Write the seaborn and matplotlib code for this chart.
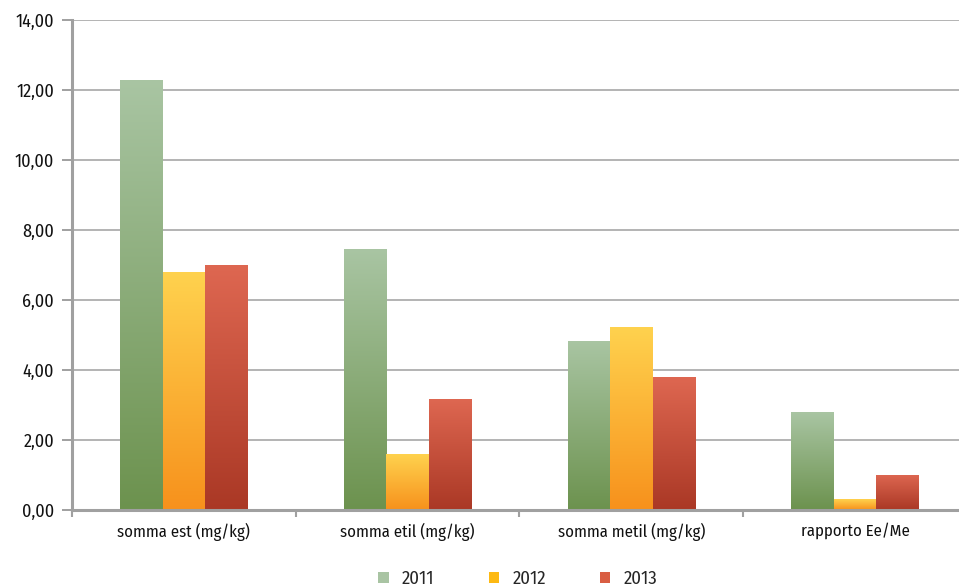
import numpy as np
import pandas as pd
import matplotlib
matplotlib.use("Agg")
import matplotlib.pyplot as plt
import seaborn as sns
from matplotlib.colors import LinearSegmentedColormap
from matplotlib.patches import Patch
from matplotlib.ticker import FuncFormatter, FixedLocator

categories = ["somma est (mg/kg)", "somma etil (mg/kg)", "somma metil (mg/kg)", "rapporto Ee/Me"]
years = ["2011", "2012", "2013"]
values_2011 = [12.30, 7.46, 4.83, 2.80]
values_2012 = [6.80, 1.60, 5.22, 0.31]
values_2013 = [7.00, 3.16, 3.79, 1.01]

# top / bottom colours of each year's vertical gradient, and its legend swatch
grad_top = {"2011": "#a9c5a3", "2012": "#ffd24e", "2013": "#de6751"}
grad_bottom = {"2011": "#6c924e", "2012": "#f7911c", "2013": "#aa3825"}
swatch = {"2011": "#a9c4a3", "2012": "#fdb913", "2013": "#d95e43"}

df = pd.DataFrame({
    "categoria": categories * 3,
    "anno": [y for y in years for _ in categories],
    "valore": values_2011 + values_2012 + values_2013,
})

sns.set_theme(style="white")
plt.rcParams["font.family"] = ["Fira Sans Condensed", "PT Sans Narrow", "Roboto Condensed",
                               "IBM Plex Sans Condensed", "DejaVu Sans"]

fig = plt.figure(figsize=(9.59, 5.87), dpi=100)
ax = fig.add_axes([72 / 959, 1 - 510 / 587, 1 - 72 / 959, (510 - 20) / 587])

sns.barplot(data=df, x="categoria", y="valore", hue="anno", order=categories,
            hue_order=years, palette=[swatch[y] for y in years], width=0.57,
            saturation=1, legend=False, ax=ax, edgecolor="none", linewidth=0)

# replace flat fills with vertical gradients clipped to each bar
grad = np.linspace(0, 1, 256).reshape(-1, 1)
for year, container in zip(years, ax.containers):
    cmap = LinearSegmentedColormap.from_list(year, [grad_bottom[year], grad_top[year]])
    for bar in container:
        x0, y0 = bar.get_x(), bar.get_y()
        w, h = bar.get_width(), bar.get_height()
        im = ax.imshow(grad, cmap=cmap, aspect="auto", origin="lower",
                       extent=[x0, x0 + w, y0, y0 + h], zorder=2,
                       interpolation="bilinear")
        im.set_clip_path(bar)
        bar.set_facecolor("none")

ax.set_xlim(-0.5, 3.465)
ax.set_ylim(0, 14)

ax.set_yticks(np.arange(0, 15, 2))
ax.yaxis.set_major_formatter(FuncFormatter(lambda v, p: f"{v:.2f}".replace(".", ",")))
ax.grid(axis="y", color="#b3b3b3", linewidth=1.4)
ax.set_axisbelow(True)

ax.set_xlabel("")
ax.set_ylabel("")
ax.xaxis.set_minor_locator(FixedLocator([-0.5, 0.5, 1.5, 2.5, 3.5]))
ax.tick_params(axis="x", which="major", length=0, pad=9, labelsize=12, colors="#111111")
ax.tick_params(axis="x", which="minor", length=5, width=1.5, color="#a0a0a0", bottom=True)
ax.tick_params(axis="y", length=7, width=1.4, color="#a0a0a0", left=True, pad=6,
               labelsize=13, labelcolor="#111111")

for side in ["top", "right"]:
    ax.spines[side].set_visible(False)
for side in ["left", "bottom"]:
    ax.spines[side].set_color("#a0a0a0")
    ax.spines[side].set_linewidth(2.2)

handles = [Patch(facecolor=swatch[y], edgecolor="none", label=y) for y in years]
fig.legend(handles=handles, loc="center", bbox_to_anchor=(0.54, 1 - 579 / 587),
           ncol=3, frameon=False, fontsize=13.5, handlelength=0.55, handleheight=0.55,
           handletextpad=0.7, columnspacing=2.9, borderpad=0)

fig.savefig("out.png", dpi=100)
